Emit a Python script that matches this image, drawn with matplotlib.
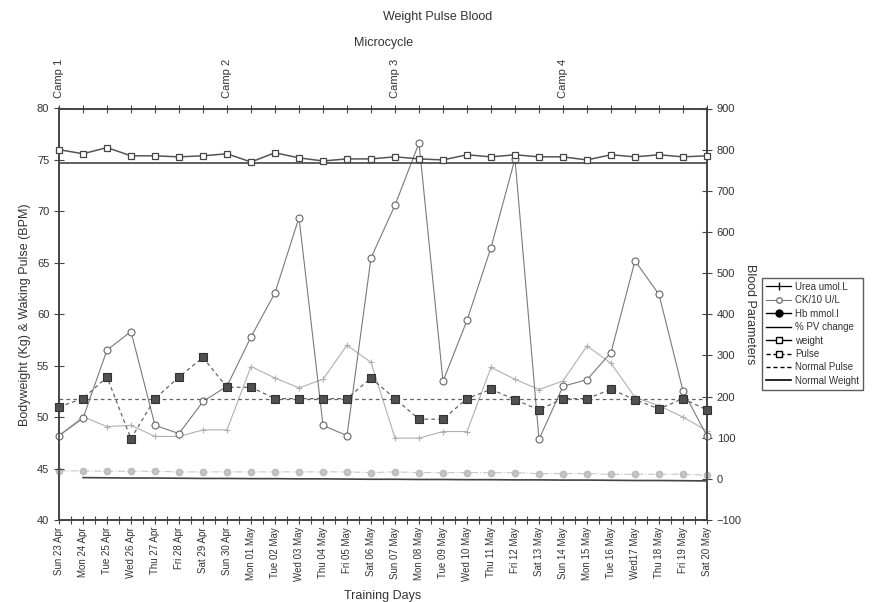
import numpy as np
import matplotlib
matplotlib.use("Agg")
import matplotlib.pyplot as plt
from matplotlib.lines import Line2D

plt.rcParams["font.family"] = ["Liberation Sans Narrow", "Liberation Sans", "DejaVu Sans"]

TXT = "#333333"

days = ["Sun 23 Apr", "Mon 24 Apr", "Tue 25 Apr", "Wed 26 Apr", "Thu 27 Apr", "Fri 28 Apr",
        "Sat 29 Apr", "Sun 30 Apr", "Mon 01 May", "Tue 02 May", "Wed 03 May", "Thu 04 May",
        "Fri 05 May", "Sat 06 May", "Sun 07 May", "Mon 08 May", "Tue 09 May", "Wed 10 May",
        "Thu 11 May", "Fri 12 May", "Sat 13 May", "Sun 14 May", "Mon 15 May", "Tue 16 May",
        "Wed17 May", "Thu 18 May", "Fri 19 May", "Sat 20 May"]

# left axis (kg / bpm)
weight = [76.0, 75.6, 76.2, 75.4, 75.4, 75.3, 75.4, 75.6, 74.8, 75.7, 75.2, 74.9, 75.1, 75.1,
          75.3, 75.1, 75.0, 75.5, 75.3, 75.5, 75.3, 75.3, 75.0, 75.5, 75.3, 75.5, 75.3, 75.4]
pulse = [51.0, 51.8, 53.9, 47.9, 51.8, 53.9, 55.8, 52.9, 52.9, 51.8, 51.8, 51.8, 51.8, 53.8,
         51.8, 49.8, 49.8, 51.8, 52.7, 51.7, 50.7, 51.8, 51.8, 52.7, 51.7, 50.8, 51.8, 50.7]
normal_pulse = 51.8
normal_weight = 74.7

# right axis (blood parameters)
urea = [105, 151, 127, 130, 103, 103, 119, 119, 273, 245, 221, 242, 325, 283,
        99, 99, 115, 115, 271, 242, 217, 238, 323, 281, 198, 178, 150, 117]
ck10 = [105, 147, 313, 358, 130, 110, 188, 225, 345, 452, 635, 130, 105, 537,
        665, 816, 237, 385, 562, 778, 96, 225, 241, 307, 530, 448, 214, 104]
hb = [19.3, 19.3, 18.4, 18.4, 18.4, 16.9, 16.9, 16.9, 16.9, 16.9, 16.9, 16.9, 16.9, 15.2,
      16.9, 15.2, 15.2, 15.2, 15.2, 15.2, 12.8, 12.8, 12.8, 11.1, 11.1, 11.1, 11.1, 8.7]
pv_change = [np.nan, 3, 2.5, 2, 2, 1.5, 1, 1, 0.5, 0.5, 0, 0, -0.5, -1,
             -1, -1.5, -1.5, -2, -2, -2.5, -2.5, -3, -3, -3.5, -4, -4, -4.5, -5]

camps = {"Camp 1": 0, "Camp 2": 7, "Camp 3": 14, "Camp 4": 21}

x = np.arange(len(days))

fig = plt.figure(figsize=(8.72, 6.02), dpi=100)
ax = fig.add_axes([59 / 872, 1 - 520 / 602, 648 / 872, 411.5 / 602])
ax2 = ax.twinx()

# ── right axis series (drawn underneath) ─────────────────────────────────
ax2.plot(x, urea, color="#b0b0b0", lw=0.8, marker="+", ms=4, mew=0.8, zorder=3, clip_on=False)
ax2.plot(x, ck10, color="#7a7a7a", lw=0.8, marker="o", ms=5, mfc="white",
         mec="#666666", mew=0.8, zorder=3, clip_on=False)
ax2.plot(x, hb, color="#c8c8c8", lw=0.8, ls="-.", marker="o", ms=4.5, mfc="#c4c4c4",
         mec="#bbbbbb", zorder=3, clip_on=False)
ax2.plot(x, pv_change, color="#444444", lw=1.2, zorder=3)

# ── left axis series (on top) ────────────────────────────────────────────
ax.set_zorder(ax2.get_zorder() + 1)
ax.patch.set_visible(False)
ax.axhline(normal_weight, color="#444444", lw=1.2, zorder=2)
ax.axhline(normal_pulse, color="#666666", lw=0.9, ls=(0, (3, 2.5)), zorder=2)
ax.plot(x, weight, color="#555555", lw=1.1, marker="s", ms=5, mfc="white",
        mec="#444444", mew=0.9, zorder=4, clip_on=False)
ax.plot(x, pulse, color="#666666", lw=0.9, ls=(0, (3, 2.5)), marker="s", ms=5.5,
        mfc="#505050", mec="#333333", mew=0.8, zorder=4, clip_on=False)

# ── axes & ticks ─────────────────────────────────────────────────────────
ax.set_xlim(0, 27)
ax.set_ylim(40, 80)
ax2.set_ylim(-100, 900)
ax.set_yticks(np.arange(40, 81, 5))
ax2.set_yticks(np.arange(-100, 901, 100))
ax.set_xticks(x)
ax.set_xticks(x[:-1] + 0.5, minor=True)
ax.set_xticklabels(days, rotation=90, fontsize=7, color=TXT)
ax.tick_params(axis="x", which="both", direction="inout", length=6, width=0.8,
               top=True, colors="#444444", labelcolor=TXT, pad=2)
ax.tick_params(axis="x", which="minor", top=False)
ax.tick_params(axis="y", direction="inout", length=7, width=0.8, colors="#444444",
               labelcolor=TXT, labelsize=8)
ax2.tick_params(axis="y", direction="inout", length=7, width=0.8, colors="#444444",
                labelcolor=TXT, labelsize=8)
for a in (ax, ax2):
    for s in a.spines.values():
        s.set_color("#444444")
        s.set_linewidth(1.2)

ax.set_xlabel("Training Days", fontsize=9, color=TXT, labelpad=6)
ax.set_ylabel("Bodyweight (Kg) & Waking Pulse (BPM)", fontsize=9, color=TXT, labelpad=4)
ax2.set_ylabel("Blood Parameters", fontsize=9, color=TXT, rotation=-90, labelpad=10)

for name, d in camps.items():
    ax.text(d, 81.0, name, rotation=90, ha="center", va="bottom", fontsize=8, color=TXT)

fig.text(384 / 872, 1 - 43 / 602, "Microcycle", ha="center", va="center", fontsize=9, color=TXT)
fig.text(438 / 872, 1 - 17 / 602, "Weight Pulse Blood", ha="center", va="center",
         fontsize=9, color=TXT)

# ── legend (black proxies like the original) ─────────────────────────────
handles = [
    Line2D([], [], color="black", lw=0.9, marker="|", ms=6),
    Line2D([], [], color="#777777", lw=0.8, marker="o", ms=4, mfc="white", mec="#777777"),
    Line2D([], [], color="black", lw=1.0, marker="o", ms=5, mfc="black"),
    Line2D([], [], color="black", lw=1.0),
    Line2D([], [], color="black", lw=1.0, marker="s", ms=5, mfc="white"),
    Line2D([], [], color="black", lw=1.0, ls=(0, (3, 2)), marker="s", ms=5, mfc="white"),
    Line2D([], [], color="black", lw=1.0, ls=(0, (3, 2))),
    Line2D([], [], color="black", lw=1.2),
]
labels = ["Urea umol.L", "CK/10 U/L", "Hb mmol.l", "% PV change", "weight", "Pulse",
          "Normal Pulse", "Normal Weight"]
leg = fig.legend(handles, labels, loc="upper left", bbox_to_anchor=(762 / 872, 1 - 278 / 602),
                 fontsize=7, frameon=True, fancybox=False, edgecolor="#333333",
                 handlelength=2.6, handletextpad=0.4, labelspacing=0.35, borderpad=0.4,
                 borderaxespad=0)
leg.get_frame().set_linewidth(1.0)
for t in leg.get_texts():
    t.set_color(TXT)

fig.savefig("out.png", dpi=100, facecolor="white")
